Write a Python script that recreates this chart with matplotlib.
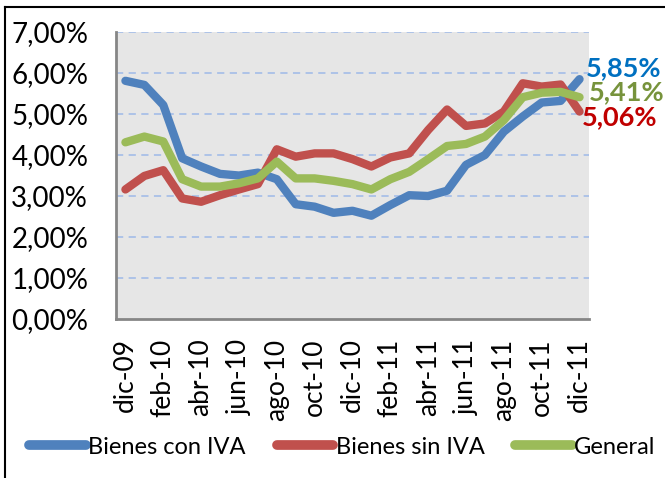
import matplotlib.pyplot as plt
from matplotlib.lines import Line2D
from matplotlib.ticker import FuncFormatter

plt.rcParams['font.family'] = ['Lato', 'DejaVu Sans']

meses = ['dic-09', 'ene-10', 'feb-10', 'mar-10', 'abr-10', 'may-10', 'jun-10', 'jul-10',
         'ago-10', 'sep-10', 'oct-10', 'nov-10', 'dic-10', 'ene-11', 'feb-11', 'mar-11',
         'abr-11', 'may-11', 'jun-11', 'jul-11', 'ago-11', 'sep-11', 'oct-11', 'nov-11', 'dic-11']

con_iva = [5.81, 5.71, 5.22, 3.92, 3.72, 3.54, 3.50, 3.57, 3.41, 2.80, 2.74, 2.59, 2.64,
           2.52, 2.78, 3.02, 3.00, 3.13, 3.76, 4.00, 4.57, 4.94, 5.28, 5.32, 5.85]
sin_iva = [3.16, 3.49, 3.63, 2.94, 2.86, 3.02, 3.16, 3.29, 4.14, 3.96, 4.04, 4.04, 3.90,
           3.72, 3.94, 4.04, 4.61, 5.11, 4.71, 4.77, 5.06, 5.75, 5.67, 5.72, 5.06]
general = [4.31, 4.45, 4.33, 3.41, 3.23, 3.23, 3.31, 3.43, 3.84, 3.43, 3.43, 3.37, 3.29,
           3.16, 3.41, 3.59, 3.90, 4.22, 4.27, 4.45, 4.85, 5.41, 5.52, 5.54, 5.41]

x = list(range(len(meses)))

fig = plt.figure(figsize=(6.65, 4.78), dpi=100)
ax = fig.add_axes([0.1744, 0.3326, 0.7113, 0.6004])
ax.set_facecolor('#E6E6E6')

for v in range(1, 8):
    ax.axhline(v, color='#A9C0E8', lw=1.3, ls=(0, (4, 3)), zorder=1)

ax.plot(x, con_iva, color='#4F81BD', lw=6, solid_capstyle='round', solid_joinstyle='round',
        label='Bienes con IVA', zorder=3)
ax.plot(x, sin_iva, color='#C0504D', lw=6, solid_capstyle='round', solid_joinstyle='round',
        label='Bienes sin IVA', zorder=3)
ax.plot(x, general, color='#9BBB59', lw=6, solid_capstyle='round', solid_joinstyle='round',
        label='General', zorder=4)

ax.set_xlim(-0.5, len(meses) - 0.5)
ax.set_ylim(0, 7)
ax.set_yticks(range(0, 8))
ax.yaxis.set_major_formatter(FuncFormatter(lambda v, p: f'{v:.2f}%'.replace('.', ',')))
ax.set_xticks(x[::2])
ax.set_xticklabels(meses[::2], rotation=90)
ax.tick_params(axis='both', length=0)
ax.tick_params(axis='y', labelsize=20, pad=20)
ax.tick_params(axis='x', labelsize=19, pad=14)

for s in ['top', 'right']:
    ax.spines[s].set_visible(False)
for s in ['left', 'bottom']:
    ax.spines[s].set_color('#868686')
    ax.spines[s].set_linewidth(2)

# etiquetas del ultimo dato
ult = len(meses) - 1
ax.annotate('5,85%', xy=(ult, con_iva[-1]), xytext=(6, 11), textcoords='offset pixels',
            color='#0070C0', fontsize=19.5, fontweight='bold', ha='left', va='center',
            annotation_clip=False)
ax.annotate('5,41%', xy=(ult, general[-1]), xytext=(9, 5), textcoords='offset pixels',
            color='#77933C', fontsize=19.5, fontweight='bold', ha='left', va='center',
            annotation_clip=False)
ax.annotate('5,06%', xy=(ult, sin_iva[-1]), xytext=(2, -6), textcoords='offset pixels',
            color='#C00000', fontsize=19.5, fontweight='bold', ha='left', va='center',
            annotation_clip=False)

fig.legend(loc='center', bbox_to_anchor=(0.515, 1 - 447 / 478), ncol=3, frameon=False,
           fontsize=17, handlelength=2.4, handletextpad=0.1, columnspacing=1.3,
           borderaxespad=0)
for h in fig.legends[0].get_lines():
    h.set_linewidth(7)
    h.set_solid_capstyle('round')

fig.add_artist(Line2D([5 / 665, 5 / 665], [0, 1 - 7 / 478], color='black', lw=1.5))
fig.add_artist(Line2D([5 / 665, 1], [1 - 7 / 478, 1 - 7 / 478], color='black', lw=1.5))

fig.savefig('out.png', dpi=100)
